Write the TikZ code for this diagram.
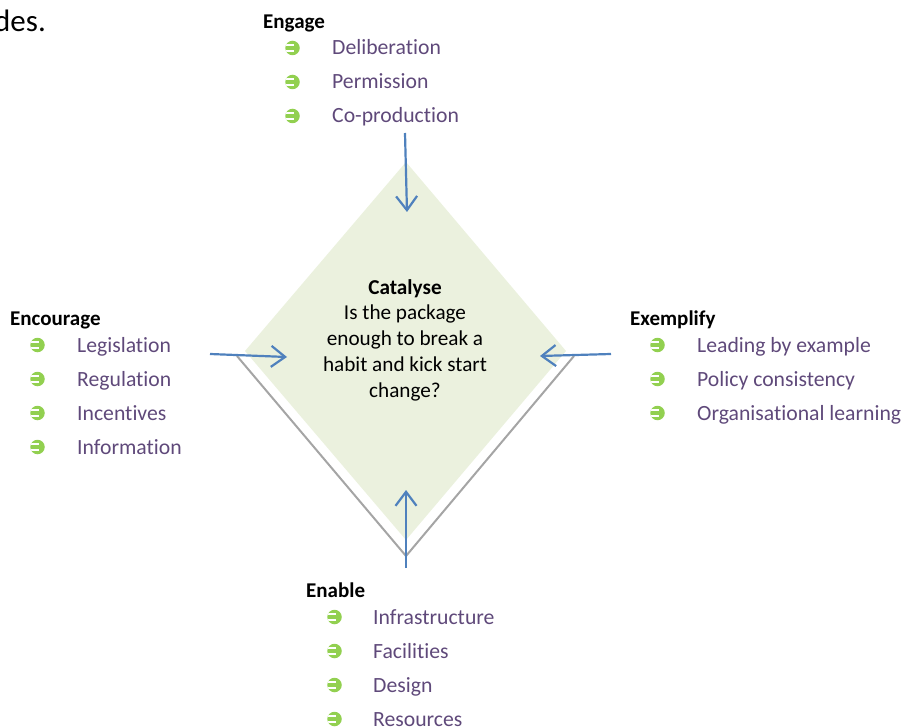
\documentclass[tikz,border=0pt]{standalone}
\usepackage{fontspec}
\setmainfont{Carlito}[Ligatures={NoCommon}]
\usetikzlibrary{arrows.meta,shapes.geometric}
\definecolor{arrblue}{HTML}{4F81BD}
\definecolor{diafill}{HTML}{EBF1DE}
\definecolor{vgrey}{HTML}{A5A5A5}
\definecolor{itempurple}{HTML}{5F497A}
\definecolor{bulgreen}{HTML}{92D050}
\begin{document}
\begin{tikzpicture}[x=1pt,y=-1pt,
  txt/.style={font=\fontsize{21.7}{24}\selectfont, inner sep=0pt, anchor=base west},
  item/.style={txt, text=itempurple},
  head/.style={txt, font=\fontsize{21}{24}\selectfont\bfseries},
  bul/.style={circle, fill=bulgreen, minimum size=14.5pt, inner sep=0pt,
    path picture={\draw[white, line width=2.2pt]
      (path picture bounding box.center) ++(-9,-2.9) -- ++(10,0)
      (path picture bounding box.center) ++(-9,2.9) -- ++(10,0);}},
  arr/.style={draw=arrblue, line width=2.2pt, -{Straight Barb[length=14pt,width=21pt,line width=2.2pt]}},
  vline/.style={draw=vgrey, line width=2pt, line join=miter}]
\useasboundingbox (0,0) rectangle (902,727);

% cut-off page text
\node[txt, font=\fontsize{31}{36}\selectfont] (des) at (-6,32) {des.};

% diamond
\coordinate (dt) at (406,162);
\coordinate (dr) at (566,351);
\coordinate (db) at (406,540);
\coordinate (dl) at (245,351);
\fill[diafill] (dt) -- (dr) -- (db) -- (dl) -- cycle;

% grey V
\coordinate (gl) at (237,356);
\coordinate (gb) at (406,556);
\coordinate (gr) at (574,356);
\draw[vline] (gl) -- (gb) -- (gr);

% centre text
\node[font=\fontsize{21.2}{25.8}\selectfont, align=center, inner sep=0pt] (cat) at (405,340)
  {\textbf{Catalyse}\\Is the package\\enough to break a\\habit and kick start\\change?};

% Engage
\node[head] (engage) at (263,29) {Engage};
\node[bul] (eb1) at (292.5,48) {};
\node[item] (e1) at (332,55) {Deliberation};
\node[bul] (eb2) at (292.5,82) {};
\node[item] (e2) at (332,89) {Permission};
\node[bul] (eb3) at (292.5,116) {};
\node[item] (e3) at (332,123) {Co-production};

% Encourage
\node[head] (encourage) at (10,325) {Encourage};
\node[bul] (cb1) at (37.5,345) {};
\node[item] (c1) at (77,352) {Legislation};
\node[bul] (cb2) at (37.5,379) {};
\node[item] (c2) at (77,386) {Regulation};
\node[bul] (cb3) at (37.5,413) {};
\node[item] (c3) at (77,420) {Incentives};
\node[bul] (cb4) at (37.5,447) {};
\node[item] (c4) at (77,454) {Information};

% Exemplify
\node[head] (exemplify) at (630,326) {Exemplify};
\node[bul] (xb1) at (657.5,345) {};
\node[item] (x1) at (697,352) {Leading by example};
\node[bul] (xb2) at (657.5,379) {};
\node[item] (x2) at (697,386) {Policy consistency};
\node[bul] (xb3) at (657.5,413) {};
\node[item] (x3) at (697,420) {Organisational learning};

% Enable
\node[head] (enable) at (306,597) {Enable};
\node[bul] (nb1) at (334.5,617) {};
\node[item] (n1) at (373,624) {Infrastructure};
\node[bul] (nb2) at (334.5,651) {};
\node[item] (n2) at (373,658) {Facilities};
\node[bul] (nb3) at (334.5,685) {};
\node[item] (n3) at (373,692) {Design};
\node[bul] (nb4) at (334.5,719) {};
\node[item] (n4) at (373,726) {Resources};

% arrows
\coordinate (ts) at (405,133);
\coordinate (te) at (407,212);
\coordinate (ls) at (210,354);
\coordinate (le) at (287,357);
\coordinate (rs) at (611,354);
\coordinate (re) at (540,356);
\coordinate (bs) at (406,568);
\coordinate (be) at (406,490);
\draw[arr] (ts) -- (te);
\draw[arr] (ls) -- (le);
\draw[arr] (rs) -- (re);
\draw[arr] (bs) -- (be);
\end{tikzpicture}
\end{document}
